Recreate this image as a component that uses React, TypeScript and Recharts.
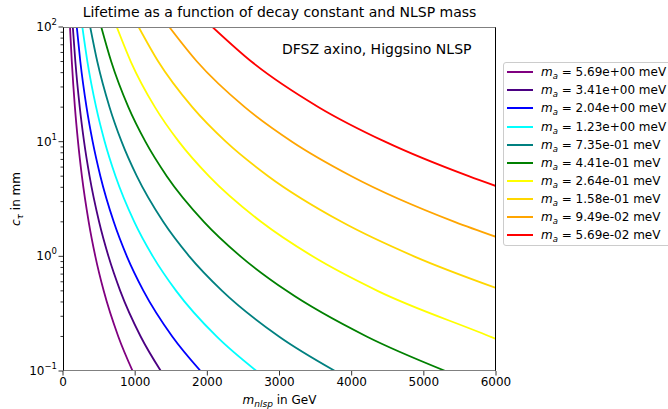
import React from 'react'
import { LineChart, Line, XAxis, YAxis } from 'recharts'

// axion masses (legend) and matplotlib named colours
const MASSES = ['5.69e+00', '3.41e+00', '2.04e+00', '1.23e+00', '7.35e-01', '4.41e-01', '2.64e-01', '1.58e-01', '9.49e-02', '5.69e-02']
const COLORS = ['#800080', '#4b0082', '#0000ff', '#00ffff', '#008080', '#008000', '#ffff00', '#ffd700', '#ffa500', '#ff0000']

// c_tau levels (mm) and the m_nlsp (GeV) at which each curve crosses them
const CT_LEVELS = [100, 50, 20, 10, 5, 2, 1, 0.5, 0.2, 0.1]
const CROSS_0 = [97, 122, 165, 208, 262, 356, 448, 564, 766, 965]
const CROSS_1 = [136, 171, 232, 292, 368, 500, 630, 793, 1076, 1356]
const CROSS_2 = [191, 240, 326, 411, 518, 703, 885, 1115, 1514, 1907]
const CROSS_3 = [268, 338, 459, 578, 728, 988, 1245, 1568, 2128, 2681]
const CROSS_4 = [377, 475, 645, 812, 1023, 1389, 1750, 2205, 2992, 3770]
const CROSS_5 = [530, 668, 906, 1142, 1438, 1953, 2460, 3099, 4207, 5300]
const CROSS_6 = [745, 939, 1274, 1605, 2022, 2745, 3459, 4358, 5915]
const CROSS_7 = [1048, 1320, 1792, 2257, 2844, 3860, 4864]
const CROSS_8 = [1473, 1856, 2519, 3173, 3998, 5427]
const CROSS_9 = [2071, 2610, 3542, 4462, 5622]
// c_tau where a curve leaves through the right edge (m = 6000)
const EDGE_CT = [null, null, null, null, null, null, 0.19, 0.53, 1.48, 4.1]

const X_TICKS = [0, 1000, 2000, 3000, 4000, 5000, 6000]
const Y_MAJOR = [0.1, 1, 10, 100]
const Y_EXP = ['\u22121', '0', '1', '2']
const Y_TICKS = [0.1, 0.2, 0.3, 0.4, 0.5, 0.6, 0.7, 0.8, 0.9, 1, 2, 3, 4, 5, 6, 7, 8, 9, 10, 20, 30, 40, 50, 60, 70, 80, 90, 100]

const CROSSES = [CROSS_0, CROSS_1, CROSS_2, CROSS_3, CROSS_4, CROSS_5, CROSS_6, CROSS_7, CROSS_8, CROSS_9]
const SERIES = CROSSES.map((ms, i) => {
  const pts = ms.map((m, j) => ({ m, ct: CT_LEVELS[j] }))
  if (EDGE_CT[i] != null) pts.push({ m: 6000, ct: EDGE_CT[i] as number })
  return pts
})

const FONT = '"DejaVu Sans", sans-serif'

const YTick = (props: any) => {
  const { x, y, payload } = props
  const k = Y_MAJOR.findIndex(v => Math.abs(v - payload.value) < 1e-9)
  if (k < 0) {
    return <line x1={x} x2={x - 2.5} y1={y} y2={y} stroke="#000" strokeWidth={0.8} />
  }
  return (
    <g>
      <line x1={x} x2={x - 4.5} y1={y} y2={y} stroke="#000" strokeWidth={0.8} />
      <text x={x - 6} y={y + 4} textAnchor="end" fontSize={12} fill="#000" fontFamily={FONT}>
        10<tspan dy={-6} fontSize={8.5}>{Y_EXP[k]}</tspan>
      </text>
    </g>
  )
}

export default function App() {
  return (
    <div style={{ position: 'absolute', left: 0, top: 0, width: 668, height: 409, background: '#fff', fontFamily: FONT }}>
      <LineChart width={668} height={409} margin={{ top: 27, right: 172, bottom: 8, left: 23 }}>
        <XAxis
          type="number"
          dataKey="m"
          domain={[0, 6000]}
          ticks={X_TICKS}
          allowDataOverflow
          axisLine={false}
          tickSize={4.5}
          tickMargin={2}
          height={30}
          tickLine={{ stroke: '#000', strokeWidth: 0.8 }}
          tick={{ fill: '#000', fontSize: 12, fontFamily: FONT }}
        />
        <YAxis
          type="number"
          dataKey="ct"
          scale="log"
          domain={[0.1, 100]}
          ticks={Y_TICKS}
          interval={0}
          allowDataOverflow
          axisLine={false}
          tickLine={false}
          tickSize={0}
          tickMargin={0}
          width={40}
          tick={<YTick />}
        />
        {SERIES.map((pts, i) => (
          <Line
            key={i}
            data={pts}
            dataKey="ct"
            type="monotone"
            stroke={COLORS[i]}
            strokeWidth={1.8}
            dot={false}
            isAnimationActive={false}
          />
        ))}
      </LineChart>

      {/* plot frame */}
      <div style={{
        position: 'absolute', left: 63, top: 27, width: 433, height: 344, boxSizing: 'border-box',
        borderLeft: '1px solid #000', borderRight: '1px solid #000',
        borderTop: '1px solid #808080', borderBottom: '1px solid #808080', pointerEvents: 'none',
      }} />

      <div style={{ position: 'absolute', left: 63, width: 433, top: 4, textAlign: 'center', fontSize: 14, color: '#000' }}>
        Lifetime as a function of decay constant and NLSP mass
      </div>
      <div style={{ position: 'absolute', left: 282, top: 41, fontSize: 14, color: '#000', whiteSpace: 'nowrap' }}>
        DFSZ axino, Higgsino NLSP
      </div>
      <div style={{ position: 'absolute', left: 63, width: 433, top: 393, textAlign: 'center', fontSize: 12, color: '#000' }}>
        <i>m</i><sub style={{ fontSize: 9 }}><i>nlsp</i></sub> in GeV
      </div>
      <div style={{
        position: 'absolute', left: 17, top: 199, fontSize: 12, color: '#000', whiteSpace: 'nowrap',
        transform: 'translate(-50%, -50%) rotate(-90deg)',
      }}>
        <i>c</i><sub style={{ fontSize: 9 }}><i>τ</i></sub> in mm
      </div>

      {/* legend */}
      <div style={{
        position: 'absolute', left: 503, top: 62, width: 170, height: 184, boxSizing: 'border-box',
        border: '1px solid #ccc', borderRadius: 3, background: '#fff',
      }}>
        {MASSES.map((ma, i) => (
          <div key={i} style={{ position: 'absolute', left: 0, top: 0.2 + i * 18.1, height: 18, width: 170, fontSize: 12, lineHeight: '18px', whiteSpace: 'nowrap' }}>
            <span style={{ position: 'absolute', left: 3, top: 8, width: 26, height: 2, background: COLORS[i] }} />
            <span style={{ position: 'absolute', left: 37, top: 0 }}>
              <i>m</i><sub style={{ fontSize: 8.5 }}><i>a</i></sub> = {ma} meV
            </span>
          </div>
        ))}
      </div>
    </div>
  )
}
